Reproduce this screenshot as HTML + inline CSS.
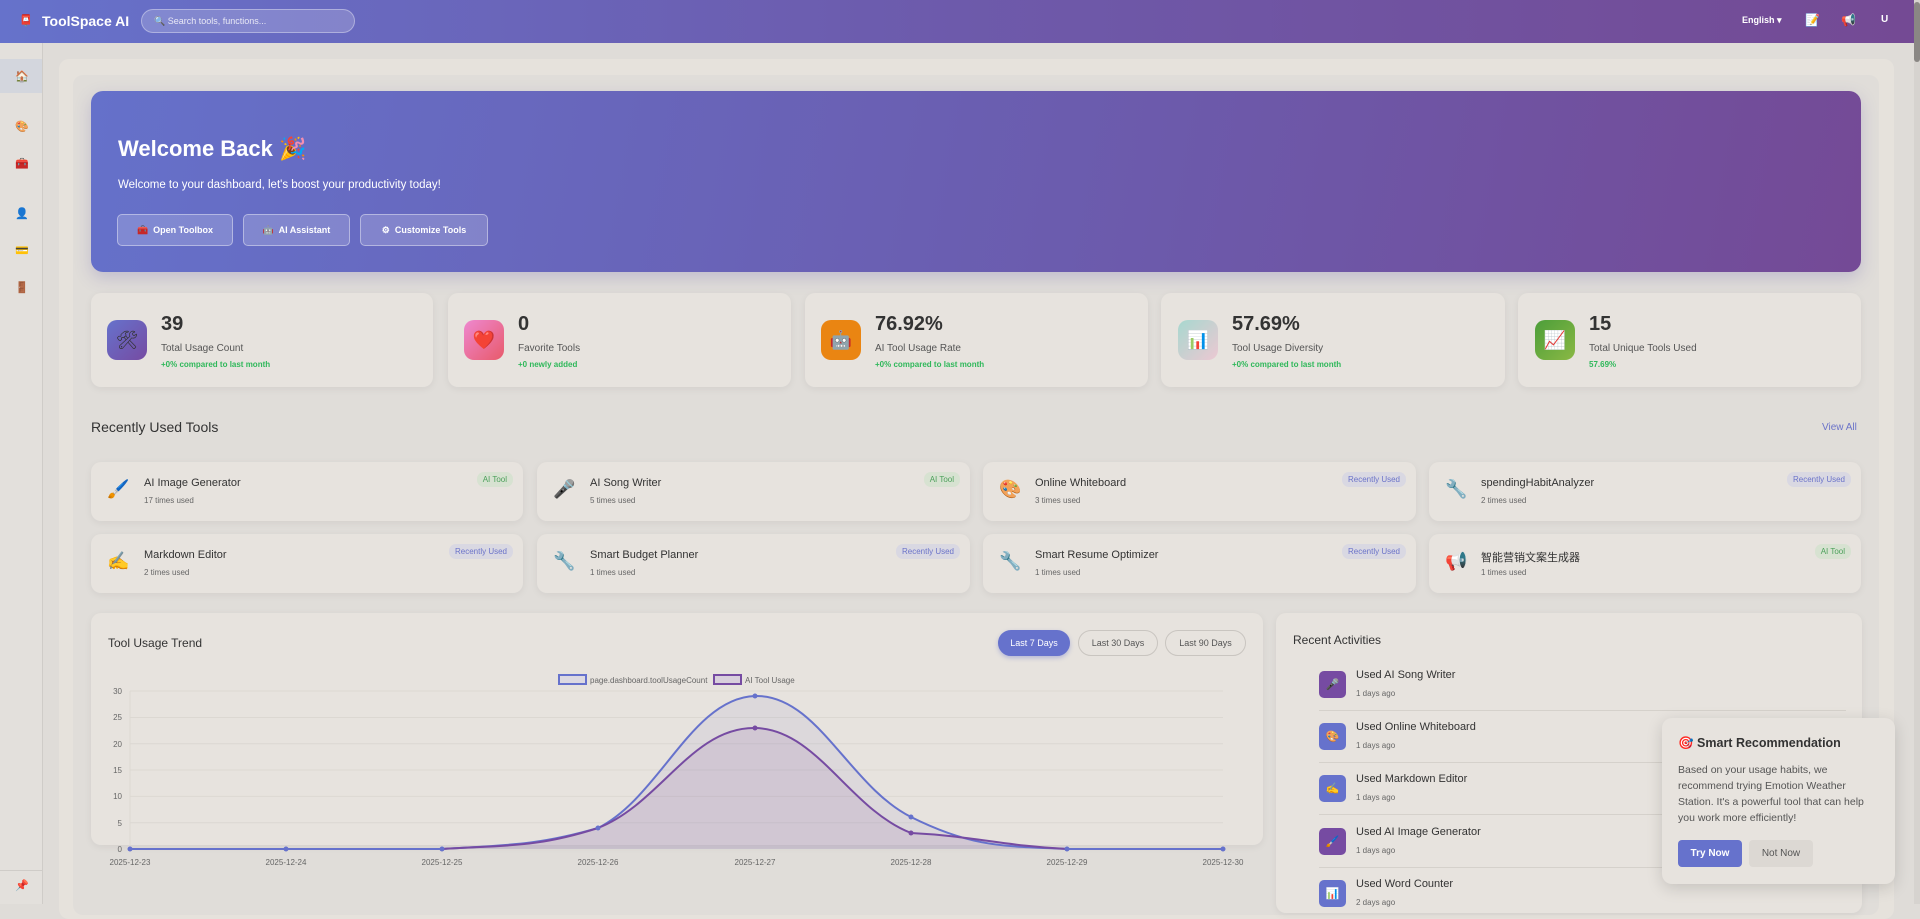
<!DOCTYPE html>
<html><head><meta charset="utf-8"><style>
*{box-sizing:border-box;margin:0;padding:0}
body{width:1920px;height:904px;overflow:hidden;background:#dfdcd8;font-family:"Liberation Sans","Noto Sans CJK SC",sans-serif;color:#333;position:relative}
.a{position:absolute}
.hdr{left:0;top:0;width:1914px;height:43px;background:linear-gradient(90deg,#6672cb,#6d5aab 50%,#744a94);color:#fff}
.side{left:0;top:43px;width:43px;height:861px;background:#e3e0dc;border-right:1px solid #cfccc8}
.card{background:#e7e3de;border-radius:10px;box-shadow:0 2px 8px rgba(0,0,0,.06)}
.icon{width:40px;height:40px;border-radius:10px;display:flex;align-items:center;justify-content:center;font-size:18px}
.num{font-size:20px;font-weight:bold;color:#333}
.lbl{font-size:10px;color:#555}
.grn{font-size:8px;color:#2fb85a;font-weight:bold}
.btn{border:1px solid rgba(255,255,255,.4);background:rgba(255,255,255,.18);border-radius:5px;color:#fff;font-size:9px;font-weight:bold;display:flex;align-items:center;justify-content:center}
.tt{font-size:11px;color:#333}
.ts{font-size:8px;color:#666}
.bd{font-size:8px;border-radius:7px;padding:3px 6px}
.ai{background:#d7e2d1;color:#4ca05a}
.ru{background:#d9d8e2;color:#6b73c9}
.pb{border:1px solid #c9c5c0;border-radius:14px;font-size:9px;color:#555;display:flex;align-items:center;justify-content:center}
.ic{width:27px;height:27px;border-radius:5px;display:flex;align-items:center;justify-content:center;font-size:11px}
.ti{font-size:18px}
.si{font-size:11px}
</style></head><body>
<div class="a hdr">
 <div class="a" style="left:19px;top:14px;font-size:11px">📮</div>
 <div class="a" style="left:42px;top:13px;font-size:14px;font-weight:bold">ToolSpace AI</div>
 <div class="a" style="left:141px;top:9px;width:214px;height:24px;border-radius:12px;background:rgba(255,255,255,.18);border:1px solid rgba(255,255,255,.35);font-size:9px;padding:6px 0 0 12px;color:#e8e8f5">🔍 Search tools, functions...</div>
 <div class="a" style="left:1742px;top:15px;font-size:9px;font-weight:bold">English ▾</div>
 <div class="a" style="left:1805px;top:13px;font-size:12px">📝</div>
 <div class="a" style="left:1841px;top:13px;font-size:12px">📢</div>
 <div class="a" style="left:1881px;top:14px;font-size:10px;font-weight:bold">U</div>
</div>
<div class="a" style="left:1914px;top:0;width:6px;height:904px;background:#d6d3cf"><div style="margin-top:2px;width:6px;height:60px;background:#8a8784;border-radius:3px"></div></div>
<div class="a side">
 <div class="a" style="left:0;top:16px;width:42px;height:34px;background:#d3d6dd"></div>
 <div class="a si" style="left:15px;top:27px">🏠</div>
 <div class="a si" style="left:15px;top:77px">🎨</div>
 <div class="a si" style="left:15px;top:114px">🧰</div>
 <div class="a si" style="left:15px;top:164px">👤</div>
 <div class="a si" style="left:15px;top:201px">💳</div>
 <div class="a si" style="left:15px;top:238px">🚪</div>
 <div class="a" style="left:0;top:827px;width:42px;height:1px;background:#cfccc8"></div>
 <div class="a si" style="left:15px;top:836px">📌</div>
</div>
<div class="a" style="left:59px;top:59px;width:1835px;height:860px;background:#e6e2dc;border-radius:10px"></div>
<div class="a" style="left:73px;top:75px;width:1806px;height:840px;background:#e0ddd9;border-radius:10px"></div>
<div class="a" style="left:91px;top:91px;width:1770px;height:181px;border-radius:12px;background:linear-gradient(100deg,#6571ca,#6b5cae 55%,#744a96);box-shadow:0 6px 16px rgba(100,90,170,.25);color:#fff">
 <div class="a" style="left:27px;top:45px;font-size:22px;font-weight:bold">Welcome Back 🎉</div>
 <div class="a" style="left:27px;top:88px;font-size:11.5px">Welcome to your dashboard, let's boost your productivity today!</div>
 <div class="a btn" style="left:26px;top:123px;width:116px;height:32px">🧰&nbsp; Open Toolbox</div>
 <div class="a btn" style="left:152px;top:123px;width:107px;height:32px">🤖&nbsp; AI Assistant</div>
 <div class="a btn" style="left:269px;top:123px;width:128px;height:32px">⚙&nbsp; Customize Tools</div>
</div>
<!-- stats -->
<div class="a card" style="left:91px;top:293px;width:342px;height:94px"><div class="a icon" style="left:16px;top:27px;background:linear-gradient(135deg,#6672cc,#764ba2)">🛠</div><div class="a num" style="left:70px;top:20px">39</div><div class="a lbl" style="left:70px;top:50px">Total Usage Count</div><div class="a grn" style="left:70px;top:67px">+0% compared to last month</div></div>
<div class="a card" style="left:448px;top:293px;width:343px;height:94px"><div class="a icon" style="left:16px;top:27px;background:linear-gradient(135deg,#ee88d0,#e85a6a)">❤️</div><div class="a num" style="left:70px;top:20px">0</div><div class="a lbl" style="left:70px;top:50px">Favorite Tools</div><div class="a grn" style="left:70px;top:67px">+0 newly added</div></div>
<div class="a card" style="left:805px;top:293px;width:343px;height:94px"><div class="a icon" style="left:16px;top:27px;background:#ea8512">🤖</div><div class="a num" style="left:70px;top:20px">76.92%</div><div class="a lbl" style="left:70px;top:50px">AI Tool Usage Rate</div><div class="a grn" style="left:70px;top:67px">+0% compared to last month</div></div>
<div class="a card" style="left:1161px;top:293px;width:344px;height:94px"><div class="a icon" style="left:17px;top:27px;background:linear-gradient(135deg,#a7d8cf,#ecc8d2)">📊</div><div class="a num" style="left:71px;top:20px">57.69%</div><div class="a lbl" style="left:71px;top:50px">Tool Usage Diversity</div><div class="a grn" style="left:71px;top:67px">+0% compared to last month</div></div>
<div class="a card" style="left:1518px;top:293px;width:343px;height:94px"><div class="a icon" style="left:17px;top:27px;background:linear-gradient(135deg,#4c9e3a,#8ab844)">📈</div><div class="a num" style="left:71px;top:20px">15</div><div class="a lbl" style="left:71px;top:50px">Total Unique Tools Used</div><div class="a grn" style="left:71px;top:67px">57.69%</div></div>
<div class="a" style="left:91px;top:419px;font-size:14px;color:#333">Recently Used Tools</div>
<div class="a" style="left:1822px;top:422px;font-size:10px;color:#6b73c9">View All</div>
<!-- tools -->
<div class="a card" style="left:91px;top:462px;width:432px;height:59px"><div class="a ti" style="left:16px;top:17px">🖌️</div><div class="a tt" style="left:53px;top:15px">AI Image Generator</div><div class="a ts" style="left:53px;top:34px">17 times used</div><div class="a bd ai" style="right:10px;top:10px">AI Tool</div></div>
<div class="a card" style="left:537px;top:462px;width:433px;height:59px"><div class="a ti" style="left:16px;top:17px">🎤</div><div class="a tt" style="left:53px;top:15px">AI Song Writer</div><div class="a ts" style="left:53px;top:34px">5 times used</div><div class="a bd ai" style="right:10px;top:10px">AI Tool</div></div>
<div class="a card" style="left:983px;top:462px;width:433px;height:59px"><div class="a ti" style="left:16px;top:17px">🎨</div><div class="a tt" style="left:52px;top:15px">Online Whiteboard</div><div class="a ts" style="left:52px;top:34px">3 times used</div><div class="a bd ru" style="right:10px;top:10px">Recently Used</div></div>
<div class="a card" style="left:1429px;top:462px;width:432px;height:59px"><div class="a ti" style="left:16px;top:17px">🔧</div><div class="a tt" style="left:52px;top:15px">spendingHabitAnalyzer</div><div class="a ts" style="left:52px;top:34px">2 times used</div><div class="a bd ru" style="right:10px;top:10px">Recently Used</div></div>
<div class="a card" style="left:91px;top:534px;width:432px;height:59px"><div class="a ti" style="left:16px;top:17px">✍️</div><div class="a tt" style="left:53px;top:15px">Markdown Editor</div><div class="a ts" style="left:53px;top:34px">2 times used</div><div class="a bd ru" style="right:10px;top:10px">Recently Used</div></div>
<div class="a card" style="left:537px;top:534px;width:433px;height:59px"><div class="a ti" style="left:16px;top:17px">🔧</div><div class="a tt" style="left:53px;top:15px">Smart Budget Planner</div><div class="a ts" style="left:53px;top:34px">1 times used</div><div class="a bd ru" style="right:10px;top:10px">Recently Used</div></div>
<div class="a card" style="left:983px;top:534px;width:433px;height:59px"><div class="a ti" style="left:16px;top:17px">🔧</div><div class="a tt" style="left:52px;top:15px">Smart Resume Optimizer</div><div class="a ts" style="left:52px;top:34px">1 times used</div><div class="a bd ru" style="right:10px;top:10px">Recently Used</div></div>
<div class="a card" style="left:1429px;top:534px;width:432px;height:59px"><div class="a ti" style="left:16px;top:17px">📢</div><div class="a tt" style="left:52px;top:15px">智能营销文案生成器</div><div class="a ts" style="left:52px;top:34px">1 times used</div><div class="a bd ai" style="right:10px;top:10px">AI Tool</div></div>
<!-- chart card -->
<div class="a card" style="left:91px;top:613px;width:1172px;height:232px"></div>
<div class="a" style="left:108px;top:636px;font-size:12px;color:#333">Tool Usage Trend</div>
<div class="a pb" style="left:998px;top:630px;width:72px;height:26px;background:#6672cc;border-color:#6672cc;color:#fff;box-shadow:0 2px 5px rgba(102,114,204,.4)">Last 7 Days</div>
<div class="a pb" style="left:1078px;top:630px;width:80px;height:26px">Last 30 Days</div>
<div class="a pb" style="left:1165px;top:630px;width:81px;height:26px">Last 90 Days</div>
<svg class="a" style="left:0;top:0" width="1920" height="904" font-family="Liberation Sans" font-size="8" fill="#666">
 <g stroke="#dcd8d2" stroke-width="1">
  <line x1="130" x2="1223" y1="691" y2="691"/><line x1="130" x2="1223" y1="717.5" y2="717.5"/><line x1="130" x2="1223" y1="743.8" y2="743.8"/><line x1="130" x2="1223" y1="770" y2="770"/><line x1="130" x2="1223" y1="796.4" y2="796.4"/><line x1="130" x2="1223" y1="822.7" y2="822.7"/><line x1="130" x2="130" y1="691" y2="849"/>
 </g>
 <g text-anchor="end"><text x="122" y="694">30</text><text x="122" y="720">25</text><text x="122" y="747">20</text><text x="122" y="773">15</text><text x="122" y="799">10</text><text x="122" y="826">5</text><text x="122" y="852">0</text></g>
 <g text-anchor="middle"><text x="130" y="865">2025-12-23</text><text x="286" y="865">2025-12-24</text><text x="442" y="865">2025-12-25</text><text x="598" y="865">2025-12-26</text><text x="755" y="865">2025-12-27</text><text x="911" y="865">2025-12-28</text><text x="1067" y="865">2025-12-29</text><text x="1223" y="865">2025-12-30</text></g>
 <rect x="559" y="675" width="27" height="9" fill="#dcd9e2" stroke="#6672cc" stroke-width="2"/>
 <text x="590" y="683">page.dashboard.toolUsageCount</text>
 <rect x="714" y="675" width="27" height="9" fill="#d8cfdc" stroke="#764ba2" stroke-width="2"/>
 <text x="745" y="683">AI Tool Usage</text>
 <path d="M130,849 L442,849 C504,845 536,846 598,828 C660,797 692,698 755,696 C817,694 849,786 911,817 C973,848 1005,846 1067,849 L1223,849 Z" fill="rgba(150,150,200,.13)"/>
 <path d="M130,849 L442,849 C504,845 536,848 598,828 C660,804 692,727 755,728 C817,729 849,809 911,833 C973,836 1005,846 1067,849 L1223,849 Z" fill="rgba(130,80,160,.12)"/>
 <path d="M130,849 L442,849 C504,845 536,846 598,828 C660,797 692,698 755,696 C817,694 849,786 911,817 C973,848 1005,846 1067,849 L1223,849" fill="none" stroke="#6672cc" stroke-width="2"/>
 <path d="M442,849 C504,845 536,848 598,828 C660,804 692,727 755,728 C817,729 849,809 911,833 C973,836 1005,846 1067,849" fill="none" stroke="#764ba2" stroke-width="2"/>
 <g fill="#6672cc"><circle cx="130" cy="849" r="2.5"/><circle cx="286" cy="849" r="2.5"/><circle cx="442" cy="849" r="2.5"/><circle cx="598" cy="828" r="2.5"/><circle cx="755" cy="696" r="2.5"/><circle cx="911" cy="817" r="2.5"/><circle cx="1067" cy="849" r="2.5"/><circle cx="1223" cy="849" r="2.5"/></g>
 <g fill="#764ba2"><circle cx="755" cy="728" r="2.5"/><circle cx="911" cy="833" r="2.5"/></g>
</svg>
<!-- recent activities -->
<div class="a card" style="left:1276px;top:613px;width:586px;height:300px">
 <div class="a" style="left:17px;top:20px;font-size:12px;color:#333">Recent Activities</div>
 <div class="a ic" style="left:43px;top:58px;background:#764ba2">🎤</div><div class="a tt" style="left:80px;top:56px">Used AI Song Writer</div><div class="a ts" style="left:80px;top:76px">1 days ago</div>
 <div class="a" style="left:43px;top:97px;width:527px;height:1px;background:#d5d1cb"></div>
 <div class="a ic" style="left:43px;top:110px;background:#6672cc">🎨</div><div class="a tt" style="left:80px;top:108px">Used Online Whiteboard</div><div class="a ts" style="left:80px;top:128px">1 days ago</div>
 <div class="a" style="left:43px;top:149px;width:527px;height:1px;background:#d5d1cb"></div>
 <div class="a ic" style="left:43px;top:162px;background:#6672cc">✍️</div><div class="a tt" style="left:80px;top:160px">Used Markdown Editor</div><div class="a ts" style="left:80px;top:180px">1 days ago</div>
 <div class="a" style="left:43px;top:201px;width:527px;height:1px;background:#d5d1cb"></div>
 <div class="a ic" style="left:43px;top:215px;background:#764ba2">🖌️</div><div class="a tt" style="left:80px;top:213px">Used AI Image Generator</div><div class="a ts" style="left:80px;top:233px">1 days ago</div>
 <div class="a" style="left:43px;top:254px;width:527px;height:1px;background:#d5d1cb"></div>
 <div class="a ic" style="left:43px;top:267px;background:#6672cc">📊</div><div class="a tt" style="left:80px;top:265px">Used Word Counter</div><div class="a ts" style="left:80px;top:285px">2 days ago</div>
</div>
<div class="a" style="left:1662px;top:718px;width:233px;height:166px;background:#e7e3de;border-radius:10px;box-shadow:0 4px 16px rgba(0,0,0,.15)">
 <div class="a" style="left:16px;top:18px;font-size:12.5px;font-weight:bold;color:#333">🎯 Smart Recommendation</div>
 <div class="a" style="left:16px;top:44px;width:205px;font-size:10.5px;line-height:16px;color:#555">Based on your usage habits, we recommend trying Emotion Weather Station. It's a powerful tool that can help you work more efficiently!</div>
 <div class="a" style="left:16px;top:122px;width:64px;height:27px;background:#6672cc;border-radius:4px;color:#fff;font-size:10px;font-weight:bold;display:flex;align-items:center;justify-content:center">Try Now</div>
 <div class="a" style="left:87px;top:122px;width:64px;height:27px;background:#dcd8d3;border-radius:4px;color:#555;font-size:10px;display:flex;align-items:center;justify-content:center">Not Now</div>
</div>
</body></html>
